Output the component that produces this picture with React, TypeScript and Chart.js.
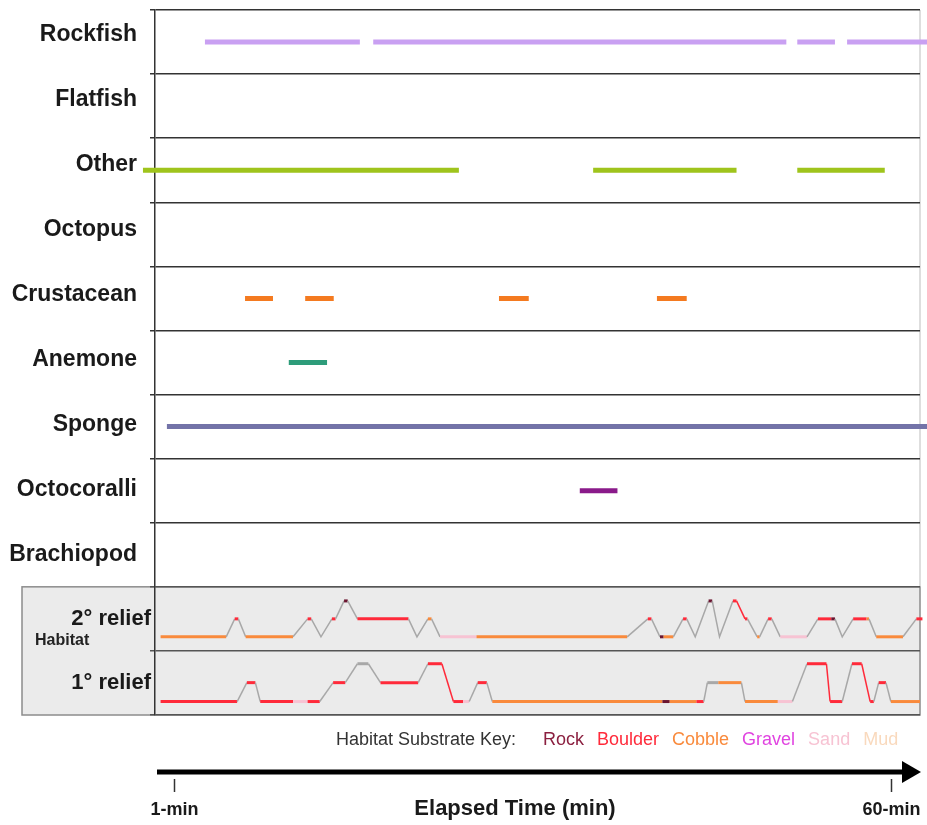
import React, { useEffect, useRef } from "react";
import { Chart, registerables } from "chart.js";
Chart.register(...registerables);

// ---- data ----
const species = ["Rockfish", "Flatfish", "Other", "Octopus", "Crustacean", "Anemone", "Sponge", "Octocoralli", "Brachiopod"];
const speciesColors = ["#c9a0f2", "#999999", "#9fc41c", "#999999", "#f47a20", "#2e9c7a", "#7373a8", "#8a1a8a", "#999999"];
// observation spans (start, end) in elapsed minutes
const rockfishSpans = [[3.55, 16.3], [17.4, 51.4], [52.3, 55.4], [56.4, 63.0]];
const flatfishSpans: number[][] = [];
const otherSpans = [[-1.55, 24.45], [35.5, 47.3], [52.3, 59.5]];
const octopusSpans: number[][] = [];
const crustaceanSpans = [[6.85, 9.15], [11.8, 14.15], [27.75, 30.2], [40.75, 43.2]];
const anemoneSpans = [[10.45, 13.6]];
const spongeSpans = [[0.42, 63.0]];
const octocoralliSpans = [[34.4, 37.5]];
const brachiopodSpans: number[][] = [];
const speciesSpans = [rockfishSpans, flatfishSpans, otherSpans, octopusSpans, crustaceanSpans, anemoneSpans, spongeSpans, octocoralliSpans, brachiopodSpans];

const reliefRows = ["2° relief", "1° relief"];
// habitat traces: time (min), relief level (0 low .. 2 high), substrate of segment to next point (T = transition)
const relief2Time = [-0.1, 5.3, 6.0, 6.3, 6.9, 10.8, 12.0, 12.3, 13.1, 14.0, 14.3, 15.0, 15.3, 16.1, 20.3, 21.0, 21.9, 22.2, 22.9, 25.9, 38.3, 40.0, 40.3, 41.0, 41.3, 42.1, 42.9, 43.2, 43.9, 45.0, 45.3, 45.9, 47.0, 47.3, 48.0, 48.2, 49.0, 49.2, 49.9, 50.2, 50.9, 53.1, 54.0, 55.1, 55.4, 56.0, 56.9, 58.0, 58.2, 58.8, 61.0, 62.1, 62.6];
const relief2Level = [0, 0, 1, 1, 0, 0, 1, 1, 0, 1, 1, 2, 2, 1, 1, 0, 1, 1, 0, 0, 0, 1, 1, 0, 0, 0, 1, 1, 0, 2, 2, 0, 2, 2, 1, 1, 0, 0, 1, 1, 0, 0, 1, 1, 1, 0, 1, 1, 1, 0, 0, 1, 1];
const relief2Sub = ["C", "T", "B", "T", "C", "T", "B", "T", "T", "B", "T", "R", "T", "B", "T", "T", "C", "T", "S", "C", "T", "B", "T", "R", "C", "T", "B", "T", "T", "R", "T", "T", "B", "B", "B", "T", "C", "T", "B", "T", "S", "T", "B", "R", "T", "T", "B", "C", "T", "C", "T", "B"];
const relief1Time = [-0.1, 6.2, 7.0, 7.7, 8.1, 10.8, 12.0, 13.0, 14.1, 15.1, 16.1, 17.0, 18.0, 21.1, 21.9, 23.05, 24.0, 24.8, 25.3, 26.0, 26.75, 27.2, 41.2, 41.8, 44.0, 44.6, 44.9, 45.8, 47.7, 48.0, 50.7, 51.9, 53.1, 54.7, 55.0, 56.0, 56.8, 57.6, 58.3, 58.6, 59.0, 59.6, 60.0, 62.4];
const relief1Level = [0, 0, 1, 1, 0, 0, 0, 0, 1, 1, 2, 2, 1, 1, 2, 2, 0, 0, 0, 1, 1, 0, 0, 0, 0, 0, 1, 1, 1, 0, 0, 0, 2, 2, 0, 0, 2, 2, 0, 0, 1, 1, 0, 0];
const relief1Sub = ["B", "T", "B", "T", "B", "S", "B", "T", "B", "T", "T", "T", "B", "T", "B", "B", "B", "S", "T", "B", "T", "C", "R", "C", "B", "T", "T", "C", "T", "C", "S", "T", "B", "B", "B", "T", "B", "B", "B", "T", "B", "T", "C"];

const substrateKeys = ["Rock", "Boulder", "Cobble", "Gravel", "Sand", "Mud"];
const substrateCodes = ["R", "B", "C", "G", "S", "M"];
const substrateColors = ["#8b2040", "#ff2a3a", "#f98a3c", "#e044e0", "#f7c3d3", "#f9d9bd"];
const transitionColor = "#a8a8a8";
const rockTraceColor = "#6b1530";

const timeTicks = [1, 60];
const timeTickLabels = ["1-min", "60-min"];
const timeMin = -0.56;
const timeMax = 62.4;

const FONT = '"Liberation Sans", Arial, Helvetica, sans-serif';

function subColor(code: string) {
  if (code === "T") return transitionColor;
  if (code === "R") return rockTraceColor;
  const i = substrateCodes.indexOf(code);
  return i >= 0 ? substrateColors[i] : transitionColor;
}

export default function App() {
  const ref = useRef<HTMLCanvasElement | null>(null);

  useEffect(() => {
    if (!ref.current) return;

    const datasets: any[] = [];
    speciesSpans.forEach((spans, row) => {
      if (!spans.length) return;
      const data: any[] = [];
      spans.forEach(([a, b]) => {
        data.push({ x: a, y: row + 0.5 }, { x: b, y: row + 0.5 }, { x: b, y: null });
      });
      datasets.push({
        label: species[row],
        data,
        borderColor: speciesColors[row],
        borderWidth: 5,
        borderCapStyle: "butt",
        pointRadius: 0,
        spanGaps: false,
        clip: false,
        tension: 0,
      });
    });

    const reliefData = [
      { t: relief2Time, l: relief2Level, s: relief2Sub, row: 9, base: 0.78, step: 0.28 },
      { t: relief1Time, l: relief1Level, s: relief1Sub, row: 10, base: 0.79, step: 0.295 },
    ];
    reliefData.forEach((r, k) => {
      datasets.push({
        label: reliefRows[k],
        data: r.t.map((t, i) => ({ x: t, y: r.row + r.base - r.l[i] * r.step })),
        borderColor: transitionColor,
        borderWidth: 1.5,
        pointRadius: 0,
        clip: false,
        tension: 0,
        segment: {
          borderColor: (c: any) => subColor(r.s[c.p0DataIndex]),
          borderWidth: (c: any) => (r.l[c.p0DataIndex] === r.l[c.p1DataIndex] ? 3 : 1.5),
        },
      });
    });

    const decor = {
      id: "decor",
      beforeDraw(chart: any) {
        const ctx = chart.ctx;
        const ys = chart.scales.y;
        const area = chart.chartArea;
        const y9 = ys.getPixelForValue(9);
        const y11 = ys.getPixelForValue(11);
        ctx.save();
        ctx.fillStyle = "#ffffff";
        ctx.fillRect(0, 0, chart.width, chart.height);
        ctx.fillStyle = "#ebebeb";
        ctx.fillRect(22, y9, area.right - 22, y11 - y9);
        ctx.strokeStyle = "#8c8c8c";
        ctx.lineWidth = 1.5;
        ctx.strokeRect(22, y9, area.right - 22, y11 - y9);
        ctx.strokeStyle = "#c8c8c8";
        ctx.lineWidth = 1.2;
        ctx.beginPath();
        ctx.moveTo(area.right, area.top);
        ctx.lineTo(area.right, y9);
        ctx.stroke();
        ctx.restore();
      },
      afterDraw(chart: any) {
        const ctx = chart.ctx;
        const ys = chart.scales.y;
        const xs = chart.scales.x;
        ctx.save();
        // species labels
        ctx.fillStyle = "#1a1a1a";
        ctx.textAlign = "right";
        ctx.textBaseline = "alphabetic";
        ctx.font = `bold 23px ${FONT}`;
        species.forEach((name, i) => {
          const yc = ys.getPixelForValue(i + 0.5);
          ctx.fillText(name, 137, yc - 1 + i * 0.9);
        });
        // relief labels
        ctx.font = `bold 22px ${FONT}`;
        reliefRows.forEach((name, i) => {
          const yc = ys.getPixelForValue(9 + i + 0.5);
          ctx.fillText(name, 151, yc + 6);
        });
        ctx.textAlign = "left";
        ctx.font = `bold 16px ${FONT}`;
        ctx.fillStyle = "#222";
        ctx.fillText("Habitat", 35, ys.getPixelForValue(10) - 6);

        // substrate key
        ctx.font = `18px ${FONT}`;
        ctx.fillStyle = "#333";
        ctx.fillText("Habitat Substrate Key:", 336, 745);
        let kx = 543;
        substrateKeys.forEach((k, i) => {
          ctx.fillStyle = substrateColors[i];
          ctx.fillText(k, kx, 745);
          kx += ctx.measureText(k).width + 13;
        });

        // time arrow
        ctx.fillStyle = "#000";
        ctx.fillRect(157, 769.5, 748, 5);
        ctx.beginPath();
        ctx.moveTo(902, 761);
        ctx.lineTo(921, 772);
        ctx.lineTo(902, 783);
        ctx.closePath();
        ctx.fill();

        ctx.strokeStyle = "#333";
        ctx.lineWidth = 1.5;
        ctx.font = `bold 18px ${FONT}`;
        ctx.fillStyle = "#1a1a1a";
        ctx.textAlign = "center";
        timeTicks.forEach((t, i) => {
          const px = Math.round(xs.getPixelForValue(t)) + 0.5;
          ctx.beginPath();
          ctx.moveTo(px, 779);
          ctx.lineTo(px, 792);
          ctx.stroke();
          ctx.fillText(timeTickLabels[i], px, 815);
        });
        ctx.font = `bold 22px ${FONT}`;
        ctx.fillText("Elapsed Time (min)", 515, 815);
        ctx.restore();
      },
    };

    const chart = new Chart(ref.current, {
      type: "line",
      data: { datasets },
      options: {
        animation: false,
        responsive: false,
        devicePixelRatio: 1,
        layout: { padding: { top: 10, right: 7, bottom: 110, left: 0 } },
        plugins: { legend: { display: false }, tooltip: { enabled: false } },
        scales: {
          x: { type: "linear", min: timeMin, max: timeMax, display: false },
          y: {
            type: "linear",
            min: 0,
            max: 11,
            reverse: true,
            afterBuildTicks: (s: any) => {
              s.ticks = Array.from({ length: 12 }, (_, i) => ({ value: i }));
            },
            afterFit: (s: any) => {
              s.width = 155;
            },
            ticks: { display: false },
            border: { display: true, color: "#333", width: 1.5 },
            grid: {
              color: (c: any) => (c.tick && c.tick.value >= 9 ? "#555" : "#333"),
              lineWidth: 1.5,
              tickLength: 5,
              drawTicks: true,
            },
          },
        },
      },
      plugins: [decor],
    } as any);
    return () => chart.destroy();
  }, []);

  return (
    <div style={{ position: "fixed", left: 0, top: 0, width: 927, height: 825, background: "#fff" }}>
      <canvas ref={ref} width={927} height={825} style={{ width: 927, height: 825 }} />
    </div>
  );
}
